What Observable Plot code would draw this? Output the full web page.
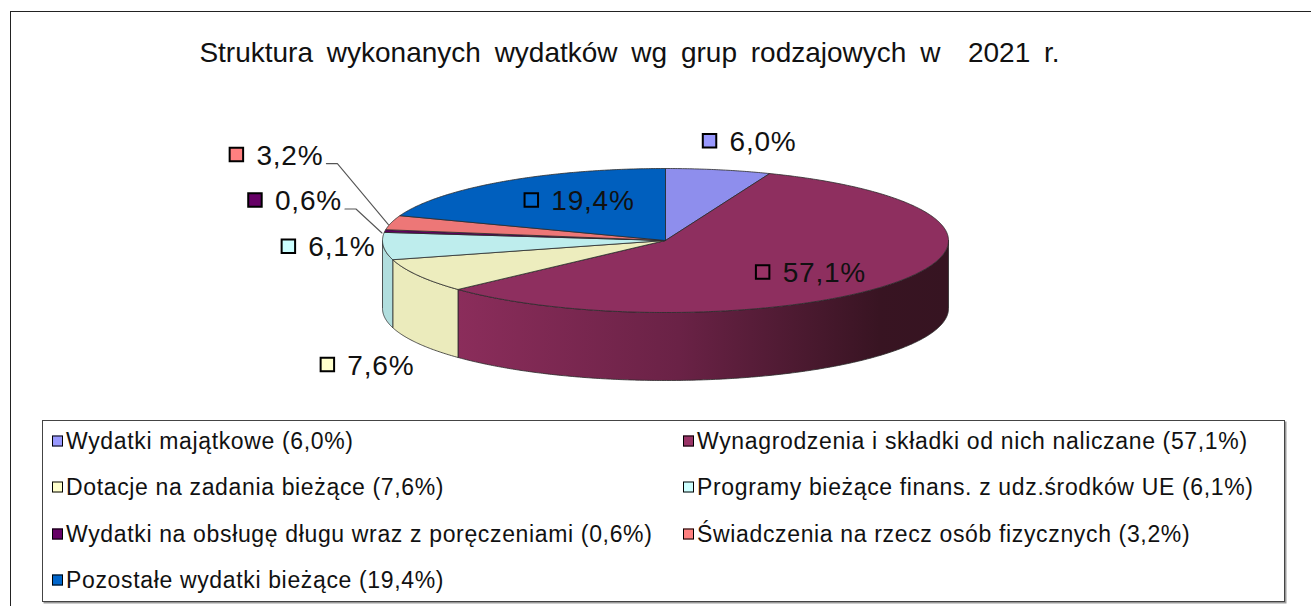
<!DOCTYPE html>
<html><head><meta charset="utf-8">
<script src="https://cdn.jsdelivr.net/npm/d3@7"></script>
<script src="https://cdn.jsdelivr.net/npm/@observablehq/plot@0.6"></script>
<style>
body{margin:0;background:#fff;font-family:"Liberation Sans",Arial,sans-serif;}
#wrap{position:relative;width:1311px;height:606px;overflow:hidden;background:#fff}
#outer{position:absolute;left:10px;top:11px;width:1330px;height:640px;border-left:1.6px solid #222;border-top:1.6px solid #222}
#title{position:absolute;left:0;width:1259px;text-align:center;top:37px;font-size:28px;word-spacing:6px;color:#111;white-space:nowrap}
#chart{position:absolute;left:0;top:0}
#legend{position:absolute;left:42px;top:420px;width:1243px;height:182px;border:1.5px solid #444;box-shadow:1.5px 1.5px 0 #999;box-sizing:border-box}
.item{position:absolute;font-size:23px;display:flex;align-items:center;white-space:nowrap;color:#111;letter-spacing:0.65px;transform:translateY(-50%)}
.sw{width:9px;height:9px;border:1.6px solid #000;margin-right:3px;flex:none}
</style>
</head><body>
<div id="wrap">
  <div id="outer"></div>
  <div id="title">Struktura wykonanych wydatków wg grup rodzajowych w &nbsp;2021 r.</div>
  <div id="chart"></div>
  <div id="legend"></div>
</div>
<script>
// ---- data ----
const categories = [
  "Wydatki majątkowe",
  "Wynagrodzenia i składki od nich naliczane",
  "Dotacje na zadania bieżące",
  "Programy bieżące finans. z udz.środków UE",
  "Wydatki na obsługę długu wraz z poręczeniami",
  "Świadczenia na rzecz osób fizycznych",
  "Pozostałe wydatki bieżące"
];
const shares = [6.0, 57.1, 7.6, 6.1, 0.6, 3.2, 19.4];
const colors = ["#9999FF", "#993366", "#FFFFCC", "#CCFFFF", "#660066", "#FF8080", "#0066CC"];
const shareLabels = shares.map(v => v.toFixed(1).replace(".", ",") + "%");

// ---- layout (not data) ----
const W = 1311, H = 410;
const CX = 665, CY = 240, RX = 283, RY = 72, DEPTH = 68;
// label placement: radial factor of anchor, on top or bottom rim, pixel nudge of square
const labelLayout = [
  {f: 1.0, bottom: false, nudge: [-9, -29]},
  {f: 0.6, bottom: false, nudge: [-43, 7]},
  {f: 1.0, bottom: true,  nudge: [-91, 21]},
  {f: 1.0, bottom: false, nudge: [-95, 0]},
  {f: 1.0, bottom: false, nudge: [-130, -31], leader: true},
  {f: 1.0, bottom: false, nudge: [-155, -68], leader: true},
  {f: 0.6, bottom: false, nudge: [-37, -5]}
];

const shade = (c, k) => { const r = d3.rgb(c); return d3.rgb(r.r * k, r.g * k, r.b * k).formatHex(); };
const topColor = colors.map(c => shade(c, 0.93));
const sideFill = colors.map((c, i) => i === 1 ? "url(#gradW)" : shade(c, i === 3 ? 0.87 : 0.92));

const pt = (a, f = 1, dz = 0) => ({x: CX + RX * f * Math.sin(a), y: CY - RY * f * Math.cos(a) + dz});
const arcs = d3.pie().sort(null).value(d => d)(shares);
const slices = arcs.map((p, i) => ({i, a0: p.startAngle, a1: p.endAngle, mid: (p.startAngle + p.endAngle) / 2}));

function arcPts(a0, a1, dz) {
  const n = Math.max(2, Math.ceil((a1 - a0) / (Math.PI / 360)));
  return d3.range(n + 1).map(k => pt(a0 + (a1 - a0) * k / n, 1, dz));
}

const topPts = slices.flatMap(s => {
  const c = {x: CX, y: CY};
  return [c, ...arcPts(s.a0, s.a1, 0), c].map(p => ({...p, key: "t" + s.i, fill: topColor[s.i]}));
});

const sidePts = slices.flatMap(s => {
  const a = Math.max(s.a0, Math.PI / 2), b = Math.min(s.a1, 3 * Math.PI / 2);
  if (b <= a) return [];
  const top = arcPts(a, b, 0), bot = arcPts(a, b, DEPTH).reverse();
  return [...top, ...bot, top[0]].map(p => ({...p, key: "s" + s.i, fill: sideFill[s.i]}));
});

const labels = slices.map(s => {
  const L = labelLayout[s.i];
  const anchor = pt(s.mid, L.f, L.bottom ? DEPTH : 0);
  const sx = anchor.x + L.nudge[0], sy = anchor.y + L.nudge[1];
  return {i: s.i, sx, sy, tx: sx + 20, label: shareLabels[s.i], color: colors[s.i], rim: pt(s.mid, 1, 0), leader: L.leader};
});

const leaderPts = labels.filter(d => d.leader).flatMap(d => [
  {x: d.sx + 90, y: d.sy + 9, key: d.i},
  {x: d.sx + 101, y: d.sy + 9, key: d.i},
  {x: d.rim.x - 3, y: d.rim.y + 2, key: d.i}
]);

const chart = Plot.plot({
  width: W, height: H,
  margin: 0,
  x: {domain: [0, W], range: [0, W], axis: null},
  y: {domain: [0, H], range: [0, H], axis: null},
  color: {type: "identity"},
  style: {background: "transparent", fontFamily: "'Liberation Sans', Arial, sans-serif", letterSpacing: "0.8px", overflow: "visible"},
  marks: [
    Plot.line(sidePts, {x: "x", y: "y", z: "key", fill: "fill", stroke: "#2b2b2b", strokeWidth: 0.8, curve: "linear"}),
    Plot.line(topPts, {x: "x", y: "y", z: "key", fill: "fill", stroke: "#2b2b2b", strokeWidth: 0.8, curve: "linear", strokeLinejoin: "round"}),
    Plot.line(leaderPts, {x: "x", y: "y", z: "key", stroke: "#555", strokeWidth: 1.1}),
    Plot.dot(labels, {x: "sx", y: "sy", symbol: "square", r: 7.6, fill: "color", stroke: "#000", strokeWidth: 2}),
    Plot.text(labels, {x: "tx", y: "sy", dy: 1, text: "label", textAnchor: "start", fontSize: 28, fill: "#111"})
  ]
});

const defs = d3.select(chart).insert("defs", ":first-child");
const g = defs.append("linearGradient").attr("id", "gradW").attr("x1", 0).attr("x2", 1).attr("y1", 0).attr("y2", 0);
g.append("stop").attr("offset", 0).attr("stop-color", "#8B2D5B");
g.append("stop").attr("offset", 0.45).attr("stop-color", "#6A2246");
g.append("stop").attr("offset", 0.86).attr("stop-color", "#381422");
g.append("stop").attr("offset", 1).attr("stop-color", "#361421");

document.getElementById("chart").appendChild(chart);

// legend (HTML)
const legend = d3.select("#legend");
categories.forEach((c, i) => {
  const col = i % 2, row = Math.floor(i / 2);
  const it = legend.append("div").attr("class", "item")
    .style("left", (col ? 640 : 9) + "px")
    .style("top", (20 + row * 46.3) + "px");
  it.append("div").attr("class", "sw").style("background", colors[i]);
  it.append("span").text(`${c} (${shareLabels[i]})`);
});
</script>
</body></html>
